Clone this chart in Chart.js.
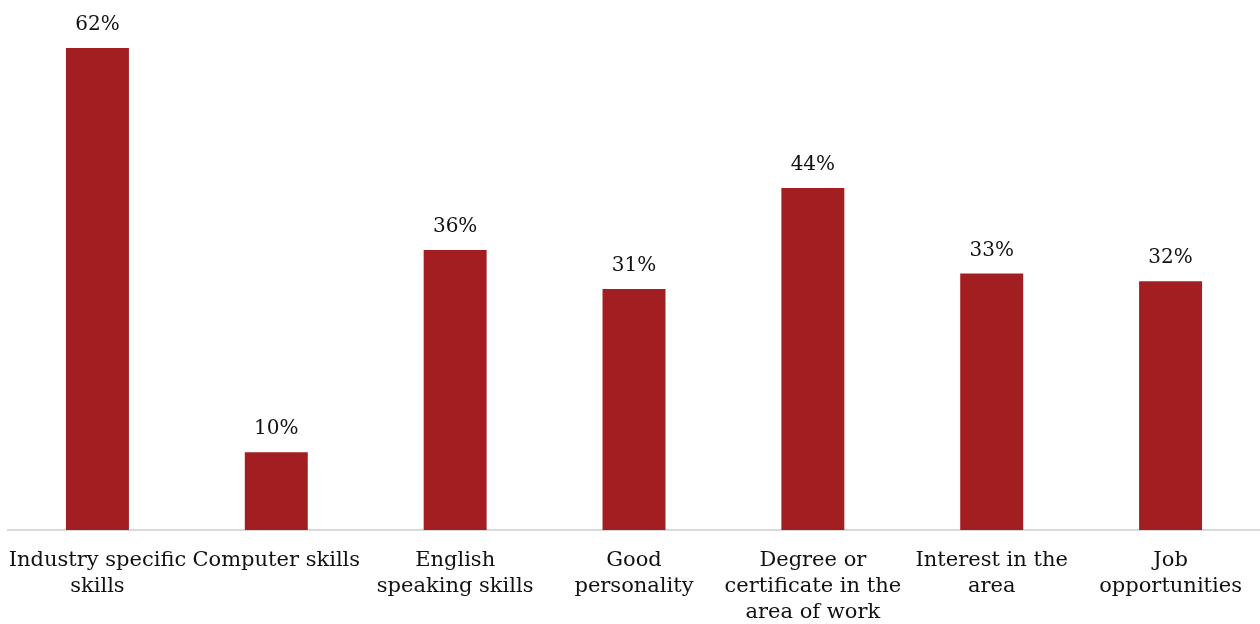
<!DOCTYPE html>
<html>
<head>
<meta charset="utf-8">
<script src="https://cdn.jsdelivr.net/npm/chart.js@4/dist/chart.umd.min.js"></script>
<style>
  html, body { margin: 0; padding: 0; background: #ffffff; }
  #wrap { width: 1260px; height: 624px; position: relative; }
</style>
</head>
<body>
<div id="wrap"><canvas id="chart"></canvas></div>
<script>
// Categories (wrapped onto lines as shown under the axis)
const categories = [
  ["Industry specific", "skills"],
  ["Computer skills"],
  ["English", "speaking skills"],
  ["Good", "personality"],
  ["Degree or", "certificate in the", "area of work"],
  ["Interest in the", "area"],
  ["Job", "opportunities"]
];
// Share of respondents, percent
const shares = [62, 10, 36, 31, 44, 33, 32];

const FONT = "'DejaVu Serif', 'Liberation Serif', serif";
const BAR = '#a21e21';

// Writes the percentage above each bar
const valueLabels = {
  id: 'valueLabels',
  afterDatasetsDraw(chart) {
    const ctx = chart.ctx;
    const meta = chart.getDatasetMeta(0);
    ctx.save();
    ctx.font = '20px ' + FONT;
    ctx.fillStyle = '#111111';
    ctx.textAlign = 'center';
    ctx.textBaseline = 'middle';
    meta.data.forEach((bar, i) => {
      ctx.fillText(shares[i] + '%', bar.x, bar.y - 23);
    });
    ctx.restore();
  }
};

new Chart(document.getElementById('chart'), {
  type: 'bar',
  data: {
    labels: categories,
    datasets: [{
      data: shares,
      backgroundColor: BAR,
      borderWidth: 0,
      categoryPercentage: 1,
      barPercentage: 0.352
    }]
  },
  options: {
    responsive: true,
    maintainAspectRatio: false,
    animation: false,
    layout: { padding: { top: 48, left: 8, right: 0, bottom: -20 } },
    plugins: {
      legend: { display: false },
      tooltip: { enabled: false }
    },
    scales: {
      x: {
        grid: { display: false, drawTicks: false },
        border: { display: true, color: '#d9d9d9', width: 2 },
        ticks: {
          color: '#111111',
          font: { family: FONT, size: 21, lineHeight: 1.24 },
          padding: 18,
          autoSkip: false,
          maxRotation: 0,
          minRotation: 0
        },
        // long first/last labels may spill past the plot edges
        afterFit(scale) {
          scale.paddingLeft = 0;
          scale.paddingRight = 0;
        }
      },
      y: {
        display: false,
        min: 0,
        max: 62
      }
    }
  },
  plugins: [valueLabels]
});
</script>
</body>
</html>
